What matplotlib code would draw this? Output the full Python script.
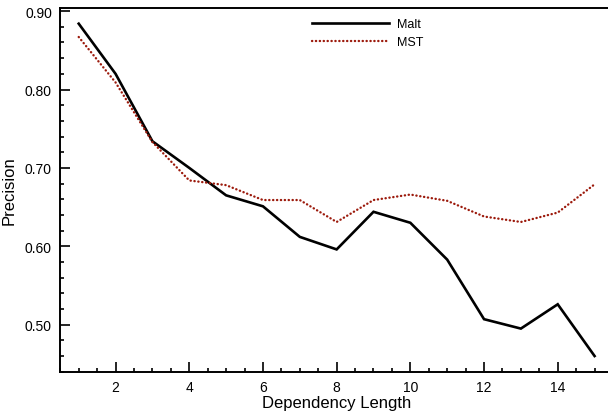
import matplotlib
matplotlib.use("Agg")
import matplotlib.pyplot as plt
from matplotlib.ticker import MultipleLocator, FormatStrFormatter

plt.rcParams['font.family'] = ['Liberation Sans', 'DejaVu Sans']

dep_length = [1, 2, 3, 4, 5, 6, 7, 8, 9, 10, 11, 12, 13, 14, 15]
malt = [0.884, 0.820, 0.734, 0.700, 0.665, 0.651, 0.612, 0.596, 0.644, 0.630,
        0.583, 0.507, 0.495, 0.526, 0.460]
mst = [0.867, 0.809, 0.733, 0.684, 0.678, 0.659, 0.659, 0.631, 0.659, 0.666,
       0.658, 0.638, 0.631, 0.643, 0.679]

fig = plt.figure(figsize=(6.08, 4.14), dpi=100)
ax = fig.add_axes([60.3 / 608, 1 - 372.7 / 414, (613 - 60.3) / 608, (372.7 - 9) / 414])

ax.plot(dep_length, malt, color='black', lw=1.9, label='Malt', solid_joinstyle='miter')
ax.plot(dep_length, mst, color='#9c1a0c', lw=1.7, linestyle=(0, (0.1, 1.55)),
        dash_capstyle='round', label='MST')

ax.set_xlim(0.5, 15.5)
ax.set_ylim(0.44, 0.904)
ax.xaxis.set_major_locator(MultipleLocator(2))
ax.xaxis.set_minor_locator(MultipleLocator(0.5))
ax.yaxis.set_major_locator(MultipleLocator(0.1))
ax.yaxis.set_minor_locator(MultipleLocator(0.02))
ax.yaxis.set_major_formatter(FormatStrFormatter('%.2f'))
ax.set_xticks([2, 4, 6, 8, 10, 12, 14])

ax.tick_params(which='both', direction='in', top=False, right=False, width=1.2, colors='black')
ax.tick_params(which='major', length=7, pad=6, labelsize=10)
ax.tick_params(which='minor', length=3)

for s in ['left', 'bottom', 'top']:
    ax.spines[s].set_linewidth(1.4)
ax.spines['right'].set_visible(False)

ax.set_xlabel('Dependency Length', fontsize=12, labelpad=1)
ax.set_ylabel('Precision', fontsize=12, labelpad=6)

ax.legend(loc='upper left', bbox_to_anchor=(312.3 / 608, 1 - 19.5 / 414),
          bbox_transform=fig.transFigure, frameon=False, fontsize=9,
          borderpad=0, borderaxespad=0, handlelength=6.16, handletextpad=0.64,
          labelspacing=0.44)

fig.savefig('out.png', dpi=100)
